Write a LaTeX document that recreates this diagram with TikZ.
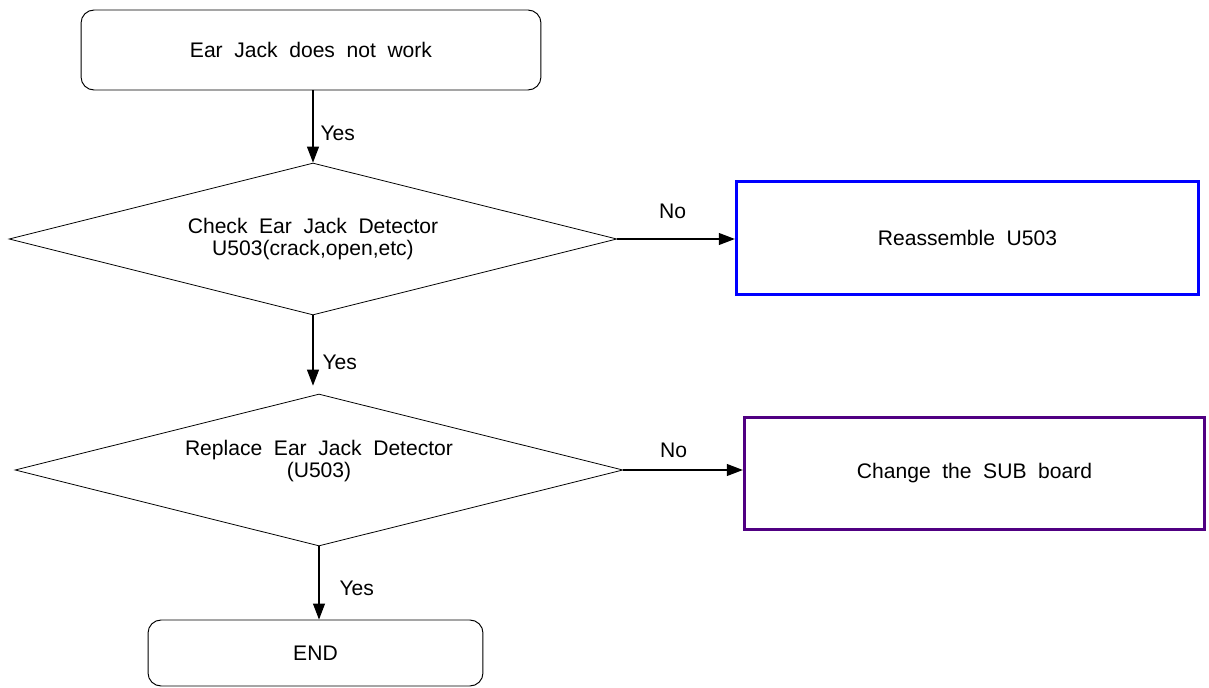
\documentclass[tikz,border=0pt]{standalone}
\usepackage{fontspec}
\setmainfont{Liberation Sans}
\usepackage{xcolor}
\usetikzlibrary{arrows.meta,positioning,shapes.geometric}
\definecolor{fixblue}{RGB}{0,0,255}
\definecolor{fixpurple}{RGB}{80,0,130}
\newcommand{\widespaces}{\spaceskip=0.55em plus 0.1em\relax}

\begin{document}
\begin{tikzpicture}[
    x=0.02cm, y=-0.02cm,
    >={Triangle[length=3.2mm,width=2.4mm]},
    chart/.style={font=\fontsize{12pt}{12.5pt}\selectfont,
        execute at begin node=\widespaces, align=center},
    terminal/.style={chart, draw, rounded corners=0.26cm, line width=0.55pt,
        inner sep=0pt},
    decision/.style={chart, draw, diamond, aspect=4, inner sep=1pt,
        line width=0.45pt},
    action/.style={chart, draw, line width=2pt, inner sep=0pt},
    flow/.style={->, line width=0.6pt},
    answer/.style={font=\fontsize{12pt}{14pt}\selectfont, inner sep=0pt},
]
\useasboundingbox (0,0) rectangle (1209,688);

\node[terminal, minimum width=9.2cm, minimum height=1.6cm] (start) at (311,50)
    {Ear Jack does not work};
\node[decision, minimum width=12.16cm, minimum height=3.04cm] (check) at (313,239)
    {Check Ear Jack Detector\\U503(crack,open,etc)};
\node[action, draw=fixblue, minimum width=9.24cm, minimum height=2.26cm] (reseat)
    at (967.5,238) {Reassemble U503};

\node[decision, minimum width=12.16cm, minimum height=3.04cm] (replace) at (319,470)
    {Replace Ear Jack Detector\\(U503)\\\mbox{}};
\node[action, draw=fixpurple, minimum width=9.2cm, minimum height=2.24cm] (subboard)
    at (974.5,473.5) {Change the SUB board};

\node[terminal, minimum width=6.7cm, minimum height=1.32cm] (finish) at (315.5,653)
    {END};

\draw[flow] (start.south -| check.north) -- (check.north)
    node[answer, pos=0.59, anchor=west, xshift=0.14cm]{Yes};
\draw[flow] (check.east) -- (check.east -| reseat.west)
    node[answer, pos=0.47, anchor=south, yshift=0.39cm]{No};
\draw[flow, shorten >=0.16cm] (check.south) -- (check.south |- replace.north)
    node[answer, pos=0.6, anchor=west, xshift=0.18cm]{Yes};
\draw[flow] (replace.east) -- (replace.east -| subboard.west)
    node[answer, pos=0.42, anchor=south, yshift=0.23cm]{No};
\draw[flow] (replace.south) -- (replace.south |- finish.north)
    node[answer, pos=0.57, anchor=west, xshift=0.4cm]{Yes};
\end{tikzpicture}
\end{document}
